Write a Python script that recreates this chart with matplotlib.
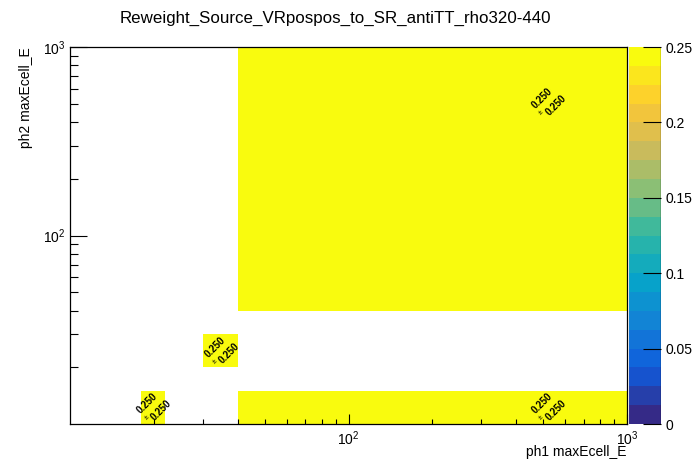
import numpy as np
import matplotlib
matplotlib.use('Agg')
import matplotlib.pyplot as plt
from matplotlib.colors import ListedColormap, LinearSegmentedColormap
from matplotlib.ticker import FixedLocator, FixedFormatter, LogLocator, NullFormatter

plt.rcParams['font.family'] = ['Liberation Sans', 'DejaVu Sans']
plt.rcParams['mathtext.fontset'] = 'custom'
plt.rcParams['mathtext.rm'] = 'Liberation Sans'

title = 'Reweight_Source_VRpospos_to_SR_antiTT_rho320-440'
xlabel = 'ph1 maxEcell_E'
ylabel = 'ph2 maxEcell_E'

# bin edges
x_edges = [10, 18, 22, 30, 40, 1000]
y_edges = [10, 15, 20, 30, 40, 1000]

# filled cells: (x bin, y bin, content, error)
cell_ix = [1, 3, 4, 4]
cell_iy = [0, 2, 4, 0]
cell_val = [0.25, 0.25, 0.25, 0.25]
cell_err = [0.25, 0.25, 0.25, 0.25]

axis_ticks = [100, 1000]
axis_ticklabels = ['$10^{2}$', '$10^{3}$']
cbar_ticks = [0, 0.05, 0.1, 0.15, 0.2, 0.25]
cbar_ticklabels = ['0', '0.05', '0.1', '0.15', '0.2', '0.25']

zmin, zmax, nlev = 0.0, 0.25, 20

# ROOT kBird palette
stops = np.linspace(0, 1, 9)
red = [0.2082, 0.0592, 0.0780, 0.0232, 0.1802, 0.5301, 0.8186, 0.9956, 0.9764]
green = [0.1664, 0.3599, 0.5041, 0.6419, 0.7178, 0.7492, 0.7328, 0.7862, 0.9832]
blue = [0.5293, 0.8684, 0.8385, 0.7914, 0.6425, 0.4662, 0.3499, 0.1968, 0.0539]
bird = LinearSegmentedColormap.from_list(
    'bird', [(s, (r, g, b)) for s, r, g, b in zip(stops, red, green, blue)])
cmap = ListedColormap([bird(i / (nlev - 1)) for i in range(nlev)])

z = np.full((len(y_edges) - 1, len(x_edges) - 1), np.nan)
for ix, iy, v in zip(cell_ix, cell_iy, cell_val):
    z[iy, ix] = v
z = np.ma.masked_invalid(z)

fig = plt.figure(figsize=(6.96, 4.72), dpi=100)
ax = fig.add_axes([70 / 696, 48 / 472, 557 / 696, 377 / 472])
cax = fig.add_axes([629 / 696, 48 / 472, 32 / 696, 377 / 472])

mesh = ax.pcolormesh(x_edges, y_edges, z, cmap=cmap, vmin=zmin, vmax=zmax)
ax.set_xscale('log')
ax.set_yscale('log')
ax.set_xlim(x_edges[0], x_edges[-1])
ax.set_ylim(y_edges[0], y_edges[-1])

# ROOT style "value ± error" text, rotated 45 deg
for ix, iy, v, e in zip(cell_ix, cell_iy, cell_val, cell_err):
    xc = 0.5 * (x_edges[ix] + x_edges[ix + 1])
    yc = 0.5 * (y_edges[iy] + y_edges[iy + 1])
    kw = dict(xycoords='data', textcoords='offset points', rotation=45,
              ha='center', va='center', rotation_mode='anchor')
    ax.annotate('%.3f' % v, (xc, yc), xytext=(-4.5, 1.6), fontsize=7,
                fontweight='bold', **kw)
    ax.annotate('%.3f' % e, (xc, yc), xytext=(5.6, -3.2), fontsize=7,
                fontweight='bold', **kw)
    ax.annotate('±', (xc, yc), xytext=(-4.6, -8.8), fontsize=5, **kw)

ax.xaxis.set_major_locator(FixedLocator(axis_ticks))
ax.xaxis.set_major_formatter(FixedFormatter(axis_ticklabels))
ax.yaxis.set_major_locator(FixedLocator(axis_ticks))
ax.yaxis.set_major_formatter(FixedFormatter(axis_ticklabels))
ax.xaxis.set_minor_locator(LogLocator(base=10, subs=np.arange(2, 10), numticks=10))
ax.yaxis.set_minor_locator(LogLocator(base=10, subs=np.arange(2, 10), numticks=10))
ax.xaxis.set_minor_formatter(NullFormatter())
ax.yaxis.set_minor_formatter(NullFormatter())
ax.tick_params(axis='x', which='major', direction='in', length=7.2, width=0.8,
               labelsize=10, pad=4, top=False)
ax.tick_params(axis='x', which='minor', direction='in', length=3.6, width=0.8, top=False)
ax.tick_params(axis='y', which='major', direction='in', length=12.5, width=0.8,
               labelsize=10, pad=3, right=False)
ax.tick_params(axis='y', which='minor', direction='in', length=6, width=0.8, right=False)
for sp in ax.spines.values():
    sp.set_linewidth(0.9)

ax.set_xlabel(xlabel, fontsize=10)
ax.xaxis.set_label_coords(1.0, -0.055)
ax.xaxis.label.set_ha('right')
ax.set_ylabel(ylabel, fontsize=10)
ax.yaxis.set_label_coords(-0.092, 1.0)
ax.yaxis.label.set_va('top')
ax.yaxis.label.set_ha('right')

cb = fig.colorbar(mesh, cax=cax, ticks=cbar_ticks)
cb.outline.set_visible(False)
cax.set_yticklabels(cbar_ticklabels)
cax.tick_params(axis='y', direction='in', length=13, width=0.8, labelsize=10, pad=3)
cax.axvline(1, color='black', lw=0.9)

fig.text(335 / 696, 1 - 18 / 472, title, ha='center', va='center', fontsize=12.2)

fig.savefig('out.png', dpi=100)
